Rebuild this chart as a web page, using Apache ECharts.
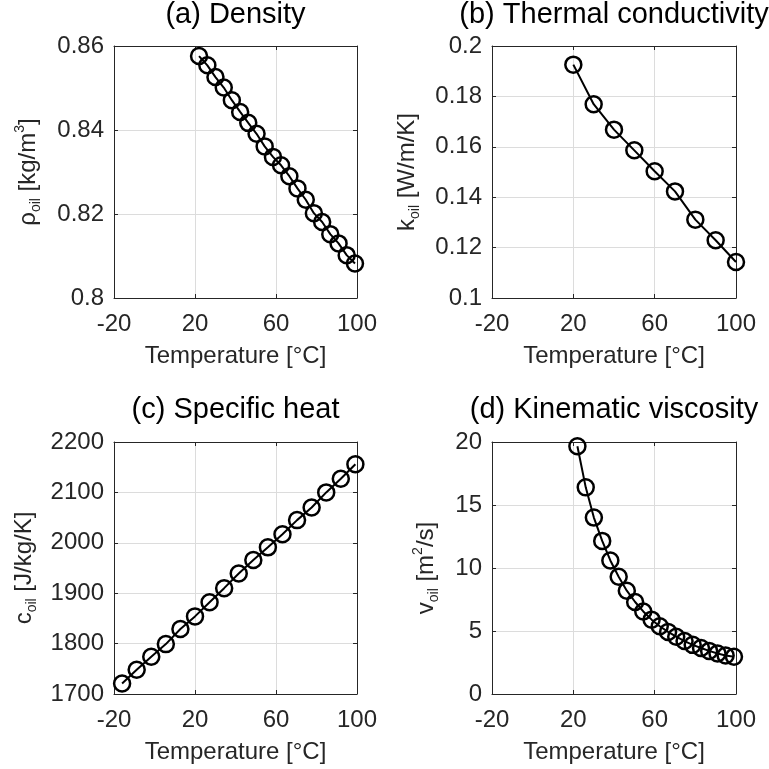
<!DOCTYPE html>
<html>
<head>
<meta charset="utf-8">
<script src="https://cdn.jsdelivr.net/npm/echarts@6/dist/echarts.min.js"></script>
<style>
html,body{margin:0;padding:0;background:#fff;}
#main{width:769px;height:769px;}
</style>
</head>
<body>
<div id="main"></div>
<script>
// ---- data ----
const tempDensity = [22, 26.1, 30.1, 34.2, 38.2, 42.3, 46.3, 50.4, 54.4, 58.5, 62.5, 66.6, 70.6, 74.7, 78.7, 82.8, 86.8, 90.9, 94.9, 99];
const density = [0.8576, 0.8554, 0.8526, 0.8501, 0.8471, 0.8443, 0.8417, 0.8391, 0.8361, 0.8336, 0.8316, 0.8290, 0.8261, 0.8234, 0.8202, 0.8181, 0.8152, 0.8130, 0.8102, 0.8082];

const tempConductivity = [20, 30, 40, 50, 60, 70, 80, 90, 100];
const conductivity = [0.1926, 0.1769, 0.1668, 0.1586, 0.1503, 0.1423, 0.1311, 0.1229, 0.1143];

const tempHeat = [-16, -8.8, -1.6, 5.6, 12.8, 20, 27.2, 34.4, 41.6, 48.8, 56, 63.2, 70.4, 77.6, 84.8, 92, 99.2];
const specificHeat = [1721, 1748, 1774, 1799, 1829, 1854, 1882, 1910, 1939, 1966, 1991, 2017, 2045, 2070, 2100, 2127, 2156];

const tempViscosity = [22, 26.1, 30.1, 34.2, 38.2, 42.3, 46.3, 50.4, 54.4, 58.5, 62.5, 66.6, 70.6, 74.7, 78.7, 82.8, 86.8, 90.9, 94.9, 99];
const viscosity = [19.66, 16.4, 14.0, 12.15, 10.6, 9.3, 8.2, 7.3, 6.55, 5.9, 5.38, 4.93, 4.55, 4.2, 3.9, 3.65, 3.42, 3.22, 3.05, 2.95];

const titles = ['(a) Density', '(b) Thermal conductivity', '(c) Specific heat', '(d) Kinematic viscosity'];
const xName = 'Temperature [°C]';
const yNames = [
  '{m|ρ}{s|oil}{m| [kg/m}{p|3}{m|]}',
  '{m|k}{s|oil}{m| [W/m/K]}',
  '{m|c}{s|oil}{m| [J/kg/K]}',
  '{m|v}{s|oil}{m| [m}{p|2}{m|/s]}'
];
const xRange = {min: -20, max: 100, interval: 40};
const yRanges = [
  {min: 0.8, max: 0.86, interval: 0.02},
  {min: 0.1, max: 0.2, interval: 0.02},
  {min: 1700, max: 2200, interval: 100},
  {min: 0, max: 20, interval: 5}
];
const seriesX = [tempDensity, tempConductivity, tempHeat, tempViscosity];
const seriesY = [density, conductivity, specificHeat, viscosity];

// ---- layout ----
const grids = [
  {left: 114, top: 46, width: 243, height: 252},
  {left: 492, top: 46, width: 244, height: 252},
  {left: 114, top: 442, width: 243, height: 252},
  {left: 492, top: 442, width: 244, height: 252}
];
const yNameGaps = [71, 70, 75, 51];
const titleTops = [0, 0, 395, 395];

const FONT = 'Liberation Sans, Arial, Helvetica, sans-serif';
const INK = '#262626';

function fmt(v) {
  return String(Math.round(v * 1e6) / 1e6);
}

const option = {
  backgroundColor: '#fff',
  animation: false,
  title: [],
  grid: grids,
  xAxis: [],
  yAxis: [],
  series: []
};

for (let i = 0; i < 4; i++) {
  const g = grids[i];
  option.title.push({
    text: titles[i],
    left: g.left + g.width / 2,
    top: titleTops[i],
    textAlign: 'center',
    padding: 0,
    textStyle: {fontFamily: FONT, fontSize: 29, fontWeight: 'normal', color: '#000'}
  });
  option.xAxis.push({
    type: 'value', gridIndex: i, position: 'bottom',
    min: xRange.min, max: xRange.max, interval: xRange.interval,
    name: xName, nameLocation: 'middle', nameGap: 46,
    nameTextStyle: {fontFamily: FONT, fontSize: 24, color: INK},
    axisLine: {show: true, onZero: false, lineStyle: {color: INK, width: 1}},
    axisTick: {show: true, inside: true, length: 4, lineStyle: {color: INK}},
    axisLabel: {fontFamily: FONT, fontSize: 24, color: INK, margin: 14, formatter: fmt},
    splitLine: {show: true, lineStyle: {color: '#dcdcdc', width: 1}}
  });
  option.xAxis.push({
    type: 'value', gridIndex: i, position: 'top',
    min: xRange.min, max: xRange.max, interval: xRange.interval,
    axisLine: {show: true, onZero: false, lineStyle: {color: INK, width: 1}},
    axisTick: {show: true, inside: true, length: 4, lineStyle: {color: INK}},
    axisLabel: {show: false},
    splitLine: {show: false}
  });
  const yr = yRanges[i];
  option.yAxis.push({
    type: 'value', gridIndex: i, position: 'left',
    min: yr.min, max: yr.max, interval: yr.interval,
    name: yNames[i], nameLocation: 'middle', nameGap: yNameGaps[i], nameRotate: 90,
    nameTextStyle: {
      fontFamily: FONT, fontSize: 24, color: INK,
      rich: {
        m: {fontFamily: FONT, fontSize: 24, color: INK, lineHeight: 30, verticalAlign: 'middle'},
        s: {fontFamily: FONT, fontSize: 14, color: INK, lineHeight: 14, verticalAlign: 'bottom'},
        p: {fontFamily: FONT, fontSize: 14, color: INK, lineHeight: 14, verticalAlign: 'top'}
      }
    },
    axisLine: {show: true, onZero: false, lineStyle: {color: INK, width: 1}},
    axisTick: {show: true, inside: true, length: 4, lineStyle: {color: INK}},
    axisLabel: {fontFamily: FONT, fontSize: 24, color: INK, margin: 10, formatter: fmt},
    splitLine: {show: true, lineStyle: {color: '#dcdcdc', width: 1}}
  });
  option.yAxis.push({
    type: 'value', gridIndex: i, position: 'right',
    min: yr.min, max: yr.max, interval: yr.interval,
    axisLine: {show: true, onZero: false, lineStyle: {color: INK, width: 1}},
    axisTick: {show: true, inside: true, length: 4, lineStyle: {color: INK}},
    axisLabel: {show: false},
    splitLine: {show: false}
  });
  const data = seriesX[i].map((x, k) => [x, seriesY[i][k]]);
  option.series.push({
    type: 'line',
    xAxisIndex: 2 * i, yAxisIndex: 2 * i,
    data: data,
    symbol: 'circle', symbolSize: 16,
    showAllSymbol: true,
    clip: false,
    lineStyle: {color: '#000', width: 2},
    itemStyle: {color: 'rgba(0,0,0,0)', borderColor: '#000', borderWidth: 2.5}
  });
}

const chart = echarts.init(document.getElementById('main'), null, {renderer: 'canvas'});
chart.setOption(option);
</script>
</body>
</html>
